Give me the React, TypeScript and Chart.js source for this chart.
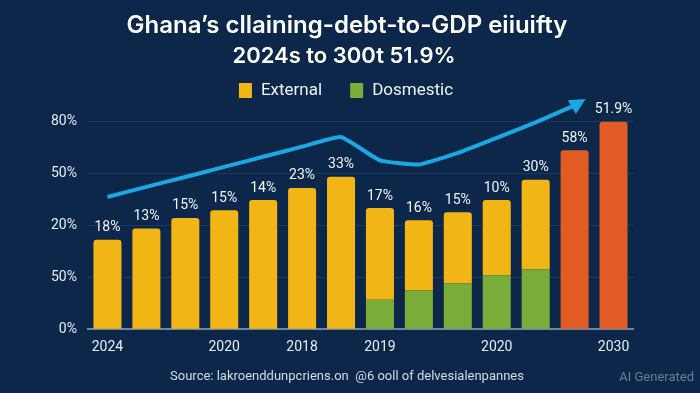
import React, { useEffect, useRef } from "react";
import { Chart, registerables } from "chart.js";

Chart.register(...registerables);

const categories = ["2024", "", "", "2020", "", "2018", "", "2019", "", "", "2020", "", "", "2030"];
const yTickLabels = ["0%", "50%", "20%", "50%", "80%"];
const domestic = [null, null, null, null, null, null, null, 11.4, 14.9, 17.6, 20.8, 23.1, null, null];
const external = [34.5, 38.8, 42.9, 45.9, 49.8, 54.5, 58.8, 35.3, 27.1, 27.5, 29.0, 34.5, null, null];
const projected = [null, null, null, null, null, null, null, null, null, null, null, null, 69, 80];
const trend = [51.0, 54.9, 58.7, 62.6, 66.5, 70.4, 74.1, 65.1, 63.5, 68.0, 73.8, 79.8, 86.3, null];
const barLabels = ["18%", "13%", "15%", "15%", "14%", "23%", "33%", "17%", "16%", "15%", "10%", "30%", "58%", "51.9%"];
const legendItems = ["External", "Dosmestic"];

const titleLine1 = "Ghana\u2019s cllaining-debt-to-GDP eiiuifty";
const titleLine2 = "2024s to 300t 51.9%";
const sourceText = "Source: lakroenddunpcriens.on  @6 ooll of delvesialenpannes";

const BG = "#0c2749";
const YELLOW = "#f2b516";
const GREEN = "#7aac3a";
const ORANGE = "#e05c24";
const BLUE = "#1ba7e4";
const FONT = "Roboto, 'Open Sans', sans-serif";
const TITLE_FONT = "Inter, Roboto, sans-serif";

const barLabelPlugin = {
  id: "barLabels",
  afterDatasetsDraw(chart: any) {
    const { ctx, scales } = chart;
    const x = scales.x;
    const y = scales.y;
    ctx.save();
    ctx.fillStyle = "#f2f5f8";
    ctx.font = `14px ${FONT}`;
    ctx.textAlign = "center";
    ctx.textBaseline = "middle";
    barLabels.forEach((lbl, i) => {
      const total = (domestic[i] ?? 0) + (external[i] ?? 0) + (projected[i] ?? 0);
      ctx.fillText(lbl, x.getPixelForValue(i), y.getPixelForValue(total) - 12);
    });
    ctx.restore();
  },
};

const arrowPlugin = {
  id: "arrowHead",
  afterDatasetsDraw(chart: any) {
    const meta = chart.getDatasetMeta(0);
    const pts = meta.data.filter((p: any, i: number) => trend[i] !== null);
    if (pts.length < 2) return;
    const a = pts[pts.length - 2];
    const b = pts[pts.length - 1];
    const ang = Math.atan2(b.y - a.y, b.x - a.x) - 0.12;
    const len = 16;
    const half = 8;
    const { ctx } = chart;
    const tipX = b.x + Math.cos(ang) * len * 0.8;
    const tipY = b.y + Math.sin(ang) * len * 0.8;
    const baseX = tipX - Math.cos(ang) * len;
    const baseY = tipY - Math.sin(ang) * len;
    ctx.save();
    ctx.fillStyle = BLUE;
    ctx.beginPath();
    ctx.moveTo(tipX, tipY);
    ctx.lineTo(baseX + Math.cos(ang + Math.PI / 2) * half, baseY + Math.sin(ang + Math.PI / 2) * half);
    ctx.lineTo(baseX - Math.cos(ang + Math.PI / 2) * half, baseY - Math.sin(ang + Math.PI / 2) * half);
    ctx.closePath();
    ctx.fill();
    ctx.restore();
  },
};

const textPlugin = {
  id: "headerFooter",
  afterDraw(chart: any) {
    const { ctx } = chart;
    ctx.save();
    // title
    ctx.fillStyle = "#ffffff";
    ctx.textAlign = "center";
    ctx.textBaseline = "alphabetic";
    ctx.font = `600 24px ${TITLE_FONT}`;
    ctx.fillText(titleLine1, 347, 33);
    ctx.font = `600 22px ${TITLE_FONT}`;
    ctx.fillText(titleLine2, 344, 63);
    // legend
    const colors: Record<string, string> = { External: YELLOW, Dosmestic: GREEN };
    ctx.font = `17px ${FONT}`;
    const box = 13;
    const gapBoxText = 9;
    const gapItems = 28;
    const widths = legendItems.map((t) => box + gapBoxText + ctx.measureText(t).width);
    const total = widths.reduce((s, w) => s + w, 0) + gapItems * (legendItems.length - 1);
    let x = 346 - total / 2;
    const cy = 90.5;
    ctx.textBaseline = "middle";
    ctx.textAlign = "left";
    legendItems.forEach((t, i) => {
      ctx.fillStyle = colors[t];
      ctx.fillRect(x, cy - 7.5, box, 15);
      ctx.fillStyle = "#f0f3f7";
      ctx.fillText(t, x + box + gapBoxText, cy);
      x += widths[i] + gapItems;
    });
    // source
    ctx.font = `13px ${FONT}`;
    ctx.fillStyle = "#d4dce6";
    ctx.textAlign = "center";
    ctx.fillText(sourceText, 347, 377);
    ctx.restore();
  },
};

export default function App() {
  const ref = useRef<HTMLCanvasElement | null>(null);

  useEffect(() => {
    document.body.style.margin = "0";
    if (!ref.current) return;
    const topRadius = { topLeft: 3, topRight: 3, bottomLeft: 0, bottomRight: 0 };
    const chart = new Chart(ref.current, {
      type: "bar",
      data: {
        labels: categories,
        datasets: [
          {
            type: "line",
            label: "Trend",
            data: trend,
            borderColor: BLUE,
            borderWidth: 4,
            tension: 0.12,
            pointRadius: 0,
            fill: false,
            clip: false as any,
            order: 0,
            spanGaps: false,
          } as any,
          {
            label: "Dosmestic",
            data: domestic,
            backgroundColor: GREEN,
            borderRadius: 0,
            stack: "s",
            order: 1,
          },
          {
            label: "External",
            data: external,
            backgroundColor: YELLOW,
            borderRadius: topRadius,
            borderSkipped: false,
            stack: "s",
            order: 1,
          },
          {
            label: "Projected",
            data: projected,
            backgroundColor: ORANGE,
            borderRadius: topRadius,
            borderSkipped: false,
            stack: "s",
            order: 1,
          },
        ],
      },
      options: {
        animation: false,
        responsive: true,
        maintainAspectRatio: false,
        layout: { padding: { left: 40, right: 67, top: 107.5, bottom: 27 } },
        datasets: { bar: { barPercentage: 0.72, categoryPercentage: 1 } },
        scales: {
          x: {
            stacked: true,
            grid: { display: false, drawTicks: false },
            border: { display: true, color: "#6f86a3", width: 2 },
            ticks: {
              color: "#e8edf3",
              font: { family: FONT, size: 14 },
              padding: 10,
              autoSkip: false,
              maxRotation: 0,
            },
          },
          y: {
            stacked: true,
            min: 0,
            max: 85.5,
            afterBuildTicks: (axis: any) => {
              axis.ticks = [0, 20, 40, 60, 80].map((v) => ({ value: v }));
            },
            grid: { color: "rgba(120,150,190,0.16)", drawTicks: false, lineWidth: 1 },
            border: { display: false },
            ticks: {
              color: "#e8edf3",
              font: { family: FONT, size: 14 },
              padding: 11,
              callback: (v: any) => yTickLabels[Math.round(Number(v) / 20)] ?? "",
            },
          },
        },
        plugins: {
          title: { display: false },
          subtitle: { display: false },
          legend: { display: false },
          tooltip: { enabled: false },
        },
      },
      plugins: [barLabelPlugin, arrowPlugin, textPlugin],
    });
    return () => chart.destroy();
  }, []);

  return (
    <div style={{ position: "fixed", left: 0, top: 0, width: 700, height: 393, background: BG, overflow: "hidden" }}>
      <canvas ref={ref} />
      <div
        style={{
          position: "absolute",
          right: 6,
          top: 369,
          color: "#6b7d95",
          fontFamily: FONT,
          fontSize: 13,
          lineHeight: "16px",
        }}
      >
        AI Generated
      </div>
    </div>
  );
}
